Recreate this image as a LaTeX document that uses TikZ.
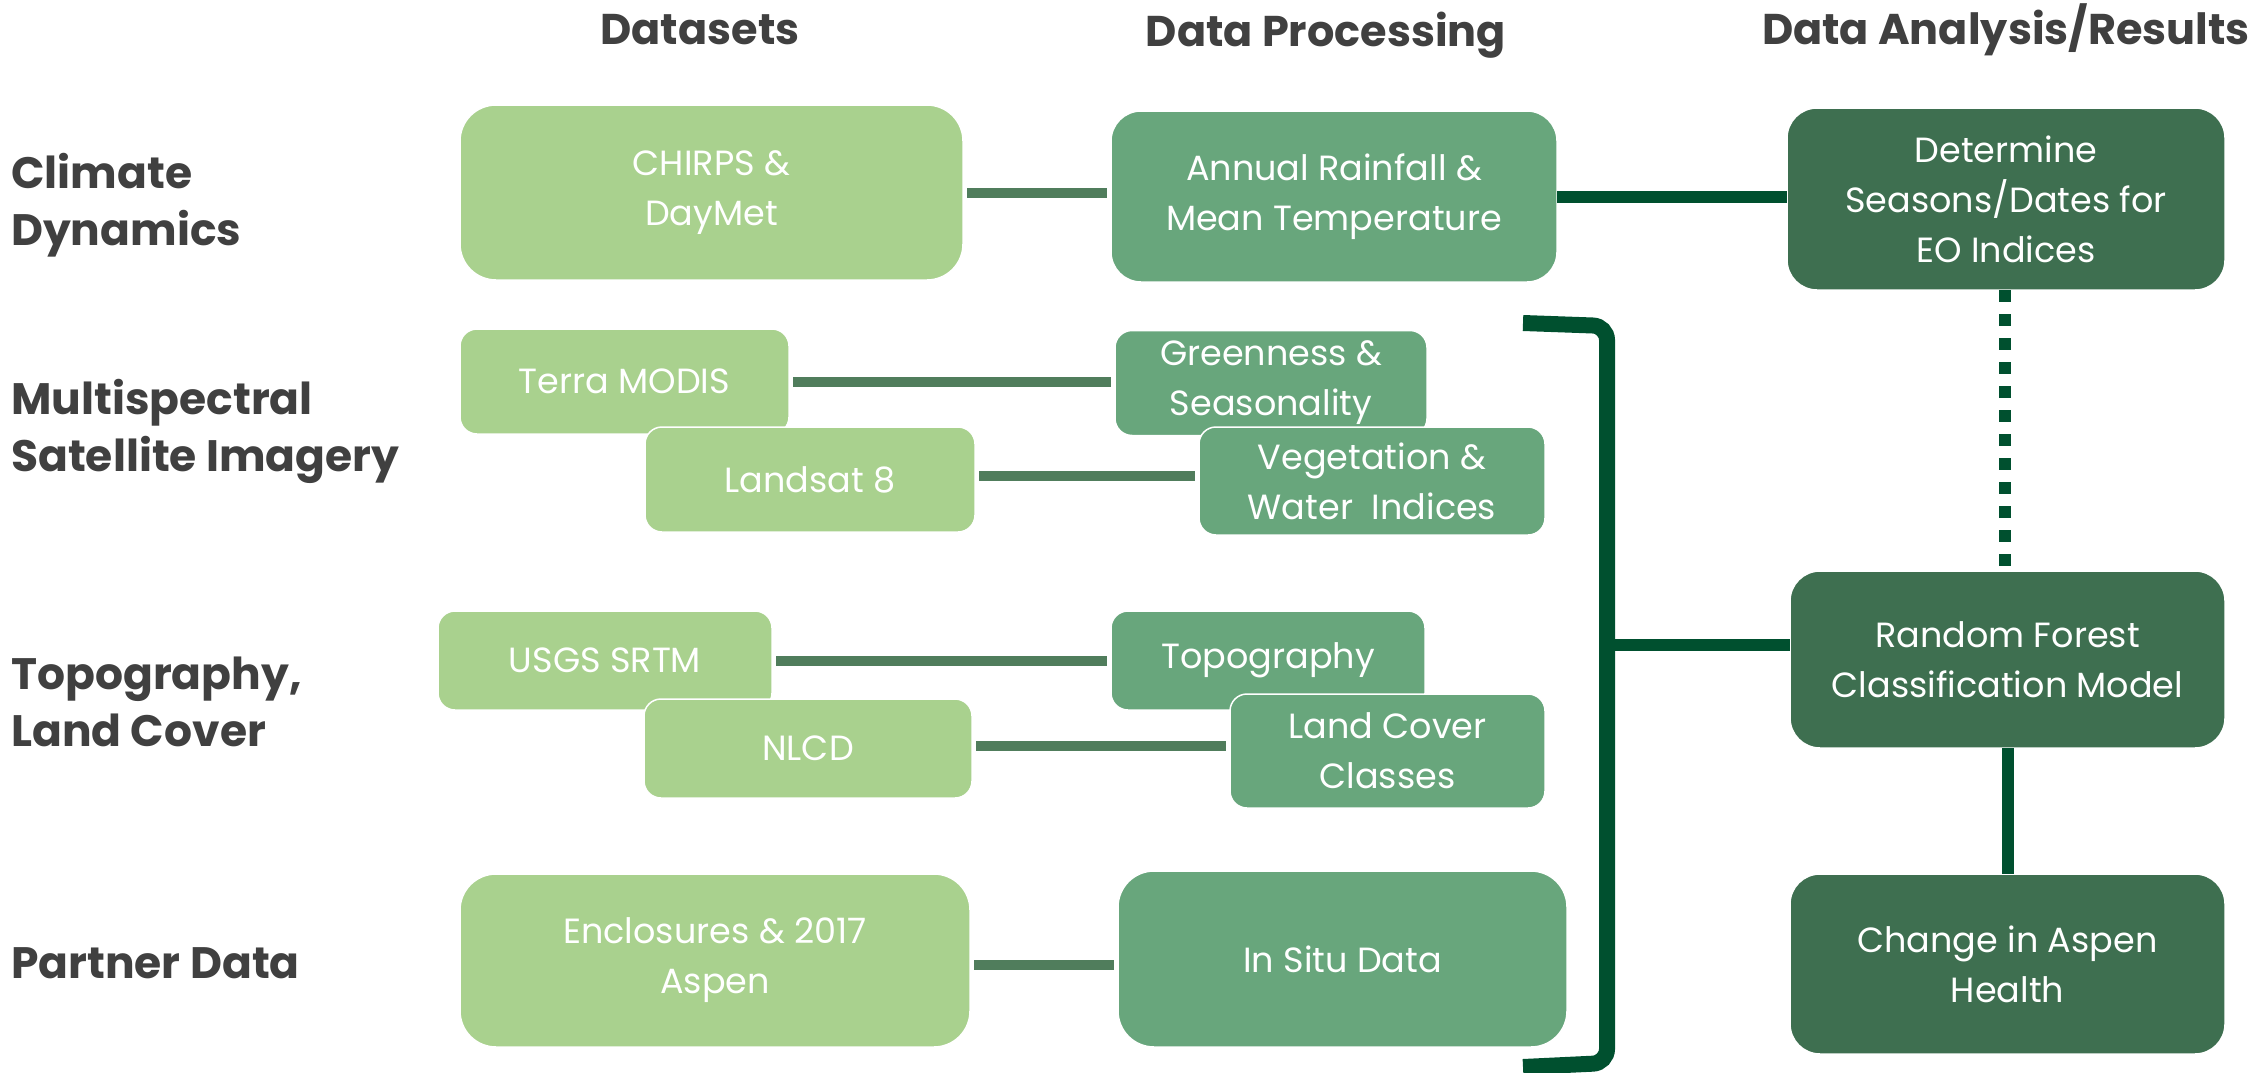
\documentclass[tikz,border=0pt]{standalone}
\usepackage{fontspec}
\setmainfont{Poppins}
\usetikzlibrary{positioning}
\definecolor{lightgrn}{HTML}{A9D18E}
\definecolor{midgrn}{HTML}{68A67C}
\definecolor{darkgrn}{HTML}{3E6F50}
\definecolor{linkgrn}{HTML}{507D5C}
\definecolor{deepgrn}{HTML}{00502F}
\definecolor{headgray}{HTML}{404040}
\tikzset{
  box/.style={rectangle, draw=white, line width=1.5pt, text=white, align=center,
    inner sep=0pt, outer sep=0pt, font=\fontsize{35}{50}\selectfont},
  lightbox/.style={box, fill=lightgrn},
  midbox/.style={box, fill=midgrn},
  darkbox/.style={box, fill=darkgrn, rounded corners=30pt},
  heading/.style={text=headgray, font=\fontsize{43}{52}\selectfont\bfseries, anchor=base},
  rowlabel/.style={text=headgray, font=\fontsize{44}{57}\selectfont\bfseries, align=left, anchor=west, inner sep=0pt},
  link/.style={draw=linkgrn, line width=10pt, shorten <=4pt, shorten >=4pt},
  darklink/.style={draw=deepgrn, line width=12pt}
}
\begin{document}
\begin{tikzpicture}[x=1pt,y=1pt,yscale=-1]
\useasboundingbox (0,0) rectangle (2254,1073);
%Headings
\node[heading] (hdata) at (700,45) {Datasets};
\node[heading] (hproc) at (1326,47) {Data Processing};
\node[heading, anchor=base east, inner sep=0pt] (hres) at (2250,45) {Data Analysis/Results};
%Row labels
\node[rowlabel] (lclim) at (11,205) {Climate\\Dynamics};
\node[rowlabel] (lmulti) at (11,431) {Multispectral\\Satellite Imagery};
\node[rowlabel] (ltopo) at (11,702) {Topography,\\Land Cover};
\node[rowlabel] (lpart) at (11,963) {Partner Data};
%Datasets
\node[lightbox, rounded corners=36pt, minimum width=503pt, minimum height=175pt] (chirps) at (711.5,192.5) {CHIRPS \&\\DayMet};
\node[lightbox, rounded corners=17pt, minimum width=329pt, minimum height=105pt] (modis) at (624.5,381.5) {Terra MODIS};
\node[lightbox, rounded corners=17pt, minimum width=330pt, minimum height=105pt] (landsat) at (810,479.5) {Landsat 8};
\node[lightbox, rounded corners=17pt, minimum width=334pt, minimum height=99pt] (srtm) at (605,660.5) {USGS SRTM};
\node[lightbox, rounded corners=17pt, minimum width=328pt, minimum height=99pt] (nlcd) at (808,748.5) {NLCD};
\node[lightbox, rounded corners=36pt, minimum width=510pt, minimum height=173pt] (encl) at (715,960.5) {Enclosures \& 2017\\Aspen};
%Data processing
\node[midbox, rounded corners=30pt, minimum width=446pt, minimum height=171pt] (rain) at (1334,196.5) {Annual Rainfall \&\\Mean Temperature};
\node[midbox, rounded corners=17pt, minimum width=312pt, minimum height=105pt] (green) at (1271,383) {Greenness \&\\Seasonality};
\node[midbox, rounded corners=17pt, minimum width=346pt, minimum height=108pt] (veg) at (1372,481) {Vegetation \&\\Water\ \ Indices};
\node[midbox, rounded corners=17pt, minimum width=314pt, minimum height=99pt] (topo) at (1268,660.5) {Topography};
\node[midbox, rounded corners=17pt, minimum width=315pt, minimum height=114pt] (cover) at (1387.5,751) {Land Cover\\Classes};
\node[midbox, rounded corners=36pt, minimum width=449pt, minimum height=176pt] (situ) at (1342.5,959) {In Situ Data};
%Results
\node[darkbox, minimum width=438pt, minimum height=182pt] (seasons) at (2006,199) {Determine\\Seasons/Dates for\\EO Indices};
\node[darkbox, minimum width=435pt, minimum height=177pt] (forest) at (2007.5,659.5) {Random Forest\\Classification Model};
\node[darkbox, minimum width=435pt, minimum height=180pt] (health) at (2007.5,964) {Change in Aspen\\Health};
%Links
\draw[link] (chirps.east) -- (chirps.east -| rain.west);
\draw[link] (modis.east) -- (modis.east -| green.west);
\draw[link] (landsat.east |- 0,476) -- (veg.west |- 0,476);
\draw[link] (srtm.east) -- (srtm.east -| topo.west);
\draw[link] (nlcd.east |- 0,746) -- (cover.west |- 0,746);
\draw[link] (encl.east |- 0,965) -- (situ.west |- 0,965);
\draw[darklink] (rain.east |- 0,197) -- (seasons.west |- 0,197);
%Bracket
\coordinate (brtop) at (1523,323);
\coordinate (brbot) at (1523,1067);
\coordinate (brmid) at (1607,645);
\draw[darklink, line width=16pt, rounded corners=14pt] (brtop) -- (1607,326) -- (1607,1063) -- (brbot);
\draw[darklink] (brmid) -- (brmid -| forest.west);
\draw[darklink, dash pattern=on 12pt off 12pt] (seasons.south -| 2005,0) -- (forest.north -| 2005,0);
\draw[darklink] (forest.south -| 2008,0) -- (health.north -| 2008,0);
\end{tikzpicture}
\end{document}
